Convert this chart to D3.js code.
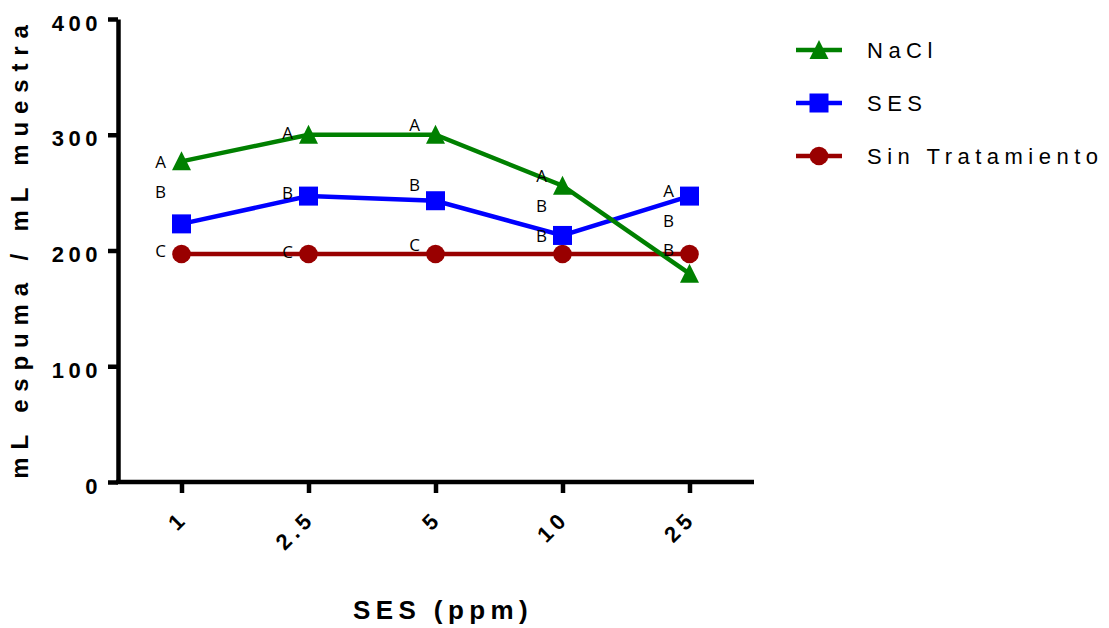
<!DOCTYPE html>
<html>
<head>
<meta charset="utf-8">
<script src="https://cdn.jsdelivr.net/npm/d3@7"></script>
<style>
  html, body { margin: 0; padding: 0; background: #fff; }
  svg { display: block; }
</style>
</head>
<body>
<svg id="chart" width="1109" height="628"></svg>
<script>
// ---- data ----
const categories = ["1", "2.5", "5", "10", "25"];
const yTicks = [0, 100, 200, 300, 400];
const seriesNames = ["NaCl", "SES", "Sin Tratamiento"];
const naclValues = [277, 300, 300, 256, 180];
const sesValues = [223, 247, 243, 213, 247];
const sinValues = [197, 197, 197, 197, 197];
// significance letters (text) and their vertical position in data units
const naclLetters = ["A", "A", "A", "A", "A"];
const naclLetterValues = [277, 302, 309, 265, 252];
const sesLetters = ["B", "B", "B", "B", "B"];
const sesLetterValues = [251, 250, 257, 239, 226];
const sinLetters = ["C", "C", "C", "B", "B"];
const sinLetterValues = [200, 199, 205, 213, 201];
const xTitle = "SES (ppm)";
const yTitle = "mL espuma / mL muestra";

// ---- drawing ----
(function () {
const svg = d3.select("#chart");
const pLeft = 118, pRight = 753, pTop = 19, pBottom = 482;
const x = d3.scalePoint().domain(categories).range([pLeft, pRight]).padding(0.5);
const y = d3.scaleLinear().domain([0, 400]).range([pBottom, pTop]);

const colors = { "NaCl": "#008000", "SES": "#0000ff", "Sin Tratamiento": "#990000" };
const shapes = { "NaCl": "triangle", "SES": "square", "Sin Tratamiento": "circle" };
const font = "'Liberation Sans', Arial, Helvetica, sans-serif";

function drawMarker(g, shape, color, cx, cy) {
  if (shape === "triangle") {
    g.append("path")
      .attr("d", `M${cx},${cy - 10} L${cx + 9.5},${cy + 9} L${cx - 9.5},${cy + 9} Z`)
      .attr("fill", color);
  } else if (shape === "square") {
    g.append("rect").attr("x", cx - 9.5).attr("y", cy - 9.5)
      .attr("width", 19).attr("height", 19).attr("fill", color);
  } else {
    g.append("circle").attr("cx", cx).attr("cy", cy).attr("r", 9.3).attr("fill", color);
  }
}

// axes
const yAxis = svg.append("g").attr("transform", `translate(${pLeft},0)`)
  .call(d3.axisLeft(y).tickValues(yTicks).tickSize(10).tickSizeOuter(0));
const xAxis = svg.append("g").attr("transform", `translate(0,${pBottom})`)
  .call(d3.axisBottom(x).tickSize(11).tickSizeOuter(0));

[yAxis, xAxis].forEach(a => {
  a.selectAll("path.domain").attr("stroke", "#000").attr("stroke-width", 4.5);
  a.selectAll(".tick line").attr("stroke", "#000").attr("stroke-width", 4.5);
});
xAxis.select("path.domain").attr("d", `M${pLeft - 2},0H${pRight + 1}`);

yAxis.selectAll(".tick text")
  .attr("x", -16).attr("dy", null).attr("y", 11)
  .style("font-family", font)
  .style("font-size", "22px").style("font-weight", "bold")
  .style("letter-spacing", "4.5px").attr("fill", "#000");

xAxis.selectAll(".tick text")
  .attr("y", null).attr("dy", null)
  .attr("text-anchor", "end")
  .attr("transform", "translate(7,38) rotate(-45)")
  .style("font-family", font)
  .style("font-size", "22px").style("font-weight", "bold")
  .style("letter-spacing", "4.5px").attr("fill", "#000");

// axis titles
svg.append("text")
  .attr("transform", `translate(28,248) rotate(-90)`)
  .attr("text-anchor", "middle")
  .style("font-family", font)
  .style("font-size", "24px").style("font-weight", "bold")
  .style("letter-spacing", "7.85px")
  .text(yTitle);

svg.append("text")
  .attr("x", 443).attr("y", 619)
  .attr("text-anchor", "middle")
  .style("font-family", font)
  .style("font-size", "26px").style("font-weight", "bold")
  .style("letter-spacing", "5.4px")
  .text(xTitle);

// series
const seriesValues = [naclValues, sesValues, sinValues];
const line = d3.line().x(d => x(d.c)).y(d => y(d.v));
const plot = svg.append("g");
[2, 1, 0].forEach(i => {
  const name = seriesNames[i];
  const pts = categories.map((c, j) => ({ c, v: seriesValues[i][j] }));
  plot.append("path").datum(pts).attr("d", line)
    .attr("fill", "none").attr("stroke", colors[name]).attr("stroke-width", 4.5);
  pts.forEach(p => drawMarker(plot, shapes[name], colors[name], x(p.c), y(p.v)));
});

// letters
const letterSets = [[naclLetters, naclLetterValues], [sesLetters, sesLetterValues], [sinLetters, sinLetterValues]];
const lg = svg.append("g")
  .style("font-family", "'Open Sans', 'DejaVu Sans', sans-serif")
  .style("font-size", "17px").attr("fill", "#000");
letterSets.forEach(([txt, vals]) => {
  categories.forEach((c, j) => {
    lg.append("text").attr("x", x(c) - 21).attr("y", y(vals[j]))
      .attr("text-anchor", "middle").attr("dominant-baseline", "central")
      .text(txt[j]);
  });
});

// legend
const legend = svg.append("g");
seriesNames.forEach((name, i) => {
  const cy = 50 + i * 53;
  legend.append("line").attr("x1", 796).attr("x2", 842).attr("y1", cy).attr("y2", cy)
    .attr("stroke", colors[name]).attr("stroke-width", 4.5);
  drawMarker(legend, shapes[name], colors[name], 819, cy);
  legend.append("text").attr("x", 867).attr("y", cy + 8)
    .style("font-family", font)
    .style("font-size", "22px").style("letter-spacing", "5.5px")
    .attr("fill", "#000").text(name);
});
})();
</script>
</body>
</html>
